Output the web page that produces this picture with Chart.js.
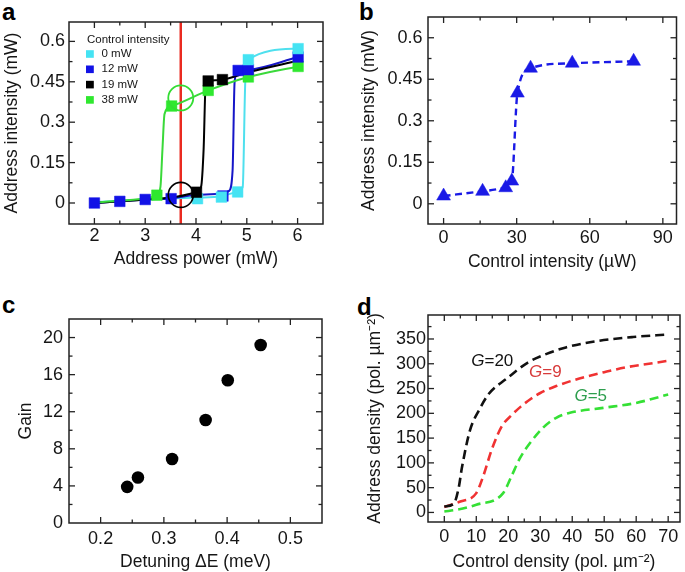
<!DOCTYPE html>
<html><head><meta charset="utf-8">
<script src="https://cdn.jsdelivr.net/npm/chart.js@4.4.1/dist/chart.umd.min.js"></script>
<style>
html,body{margin:0;padding:0;background:#fff;width:685px;height:572px;overflow:hidden;}
canvas{position:absolute;}
.lbl{position:absolute;font:bold 24px "Liberation Sans",Arial,sans-serif;line-height:24px;color:#000;}
</style></head><body>
<div class="lbl" style="left:2px;top:0px">a</div>
<div class="lbl" style="left:359px;top:0px">b</div>
<div class="lbl" style="left:2px;top:293px">c</div>
<div class="lbl" style="left:357px;top:295px">d</div>
<canvas id="ca" width="340" height="290" style="left:0;top:0"></canvas>
<canvas id="cb" width="345" height="290" style="left:340px;top:0"></canvas>
<canvas id="cc" width="340" height="282" style="left:0;top:290px"></canvas>
<canvas id="cd" width="345" height="282" style="left:340px;top:290px"></canvas>
<script>
// ---------------- Panel a data ----------------
const aSeriesLabels = ['0 mW', '12 mW', '19 mW', '38 mW'];
const aLegendTitle = 'Control intensity';
const aCyanX = [4.03, 4.5, 4.82, 5.03, 6.01];
const aCyanY = [0.016, 0.022, 0.041, 0.532, 0.573];
const aBlueX = [2, 2.5, 3, 3.51, 4.53, 4.83, 5.03, 6.01];
const aBlueY = [0, 0.006, 0.013, 0.016, 0.026, 0.492, 0.495, 0.542];
const aBlackX = [4.01, 4.24, 4.52];
const aBlackY = [0.04, 0.453, 0.458];
const aGreenX = [3.23, 3.52, 4.24, 5.03, 6.01];
const aGreenY = [0.029, 0.36, 0.418, 0.468, 0.507];
// fitted curves
const aCyanCurveX = [2, 3, 4, 4.5, 4.82, 4.92, 4.97, 5.03, 6.01];
const aCyanCurveY = [0.003, 0.013, 0.02, 0.025, 0.041, 0.06, 0.45, 0.532, 0.573];
const aBlueCurveX = [2, 2.5, 3, 3.51, 4, 4.5, 4.65, 4.72, 4.76, 4.83, 5.03, 6.01];
const aBlueCurveY = [0, 0.006, 0.013, 0.017, 0.03, 0.034, 0.045, 0.12, 0.45, 0.492, 0.495, 0.542];
const aBlackCurveX = [2, 2.5, 3, 3.5, 4.01, 4.1, 4.15, 4.19, 4.24, 4.52, 5.03, 6.01];
const aBlackCurveY = [0, 0.006, 0.013, 0.02, 0.04, 0.06, 0.2, 0.44, 0.453, 0.458, 0.485, 0.528];
const aGreenCurveX = [2, 2.5, 3, 3.23, 3.3, 3.34, 3.38, 3.52, 4.24, 5.03, 6.01];
const aGreenCurveY = [0.002, 0.008, 0.017, 0.029, 0.06, 0.2, 0.33, 0.36, 0.418, 0.468, 0.507];
const aThresholdX = 3.7;
const aCircleX = [3.7, 3.7];
const aCircleY = [0.39, 0.03];
const aXTicks = [2, 3, 4, 5, 6];
const aYTicks = [0, 0.15, 0.3, 0.45, 0.6];
const aXRange = [1.5, 6.5];
const aYRange = [-0.078, 0.672];

// ---------------- Panel b data ----------------
const bX = [0, 16, 25.5, 28, 30.3, 35.7, 52.8, 78];
const bY = [0.028, 0.045, 0.058, 0.082, 0.40, 0.49, 0.508, 0.515];
const bXTicks = [0, 30, 60, 90];
const bYTicks = [0, 0.15, 0.3, 0.45, 0.6];
const bXRange = [-6.4, 95.6];
const bYRange = [-0.073, 0.675];

// ---------------- Panel c data ----------------
const cX = [0.242, 0.259, 0.313, 0.366, 0.401, 0.453];
const cY = [3.9, 4.9, 6.9, 11.1, 15.4, 19.2];
const cXTicks = [0.2, 0.3, 0.4, 0.5];
const cYTicks = [0, 4, 8, 12, 16, 20];
const cXRange = [0.15, 0.55];
const cYRange = [0, 22];

// ---------------- Panel d data ----------------
const dSeriesLabels = ['G=20', 'G=9', 'G=5'];
const dG20X = [0, 3, 4.5, 5.5, 8, 11, 14, 19.5, 26, 32, 38, 48, 59, 70];
const dG20Y = [12, 18, 50, 90, 165, 208, 240, 270, 302, 320, 333, 346, 354, 359];
const dG9X = [0, 5, 10, 12, 15, 18, 21, 24, 27, 30, 35, 40, 45, 50, 57, 64, 70];
const dG9Y = [11, 22, 39, 70, 130, 174, 196, 214, 229, 241, 255, 266, 275, 283, 293, 300, 306];
const dG5X = [0, 3.9, 10, 18.4, 21, 23.7, 26.8, 30.9, 35, 39.3, 49.7, 60, 70];
const dG5Y = [2, 5.5, 15.6, 39, 73, 110, 140, 171, 191, 201, 211, 221, 238];
const dXTicks = [0, 10, 20, 30, 40, 50, 60, 70];
const dYTicks = [0, 50, 100, 150, 200, 250, 300, 350];
const dXRange = [-5.1, 73.7];
const dYRange = [-19.3, 398.4];

// ---------------- helpers ----------------
const FONT = '"Liberation Sans", Arial, sans-serif';
const TXT = '#161616';
const pts = (xs, ys) => xs.map((x, i) => ({x: x, y: ys[i]}));

const framePlugin = {
  id: 'frame',
  afterDatasetsDraw(chart, args, o) {
    const {ctx, chartArea: a} = chart;
    const xs = chart.scales.x, ys = chart.scales.y;
    ctx.save();
    ctx.strokeStyle = '#222';
    ctx.lineWidth = 1.3;
    const seg = (x1, y1, x2, y2) => { ctx.beginPath(); ctx.moveTo(x1, y1); ctx.lineTo(x2, y2); ctx.stroke(); };
    const tx = (v, len) => { const p = xs.getPixelForValue(v); if (p < a.left + 1.5 || p > a.right - 1.5) return; seg(p, a.bottom, p, a.bottom - len); seg(p, a.top, p, a.top + len); };
    const ty = (v, len) => { const p = ys.getPixelForValue(v); if (p < a.top + 1.5 || p > a.bottom - 1.5) return; seg(a.left, p, a.left + len, p); seg(a.right, p, a.right - len, p); };
    const majX = xs.ticks.map(t => t.value), majY = ys.ticks.map(t => t.value);
    majX.forEach(v => tx(v, 6));
    majY.forEach(v => ty(v, 6));
    const minor = (scale, step, maj, fn) => {
      for (let k = Math.ceil(scale.min / step); k <= Math.floor(scale.max / step); k++) {
        const v = k * step;
        if (maj.some(m => Math.abs(m - v) < step * 1e-3)) continue;
        fn(v, 3.5);
      }
    };
    minor(xs, o.xMinor, majX, tx);
    minor(ys, o.yMinor, majY, ty);
    ctx.lineWidth = 1.5;
    ctx.strokeRect(a.left, a.top, a.right - a.left, a.bottom - a.top);
    ctx.restore();
  }
};

const legendPlugin = {
  id: 'boxLegend',
  afterDatasetsDraw(chart, args, o) {
    if (!o || !o.labels) return;
    const {ctx, chartArea: a} = chart;
    ctx.save();
    ctx.font = '11.5px ' + FONT;
    ctx.textBaseline = 'middle';
    ctx.textAlign = 'left';
    ctx.fillStyle = TXT;
    ctx.fillText(o.title, a.left + 18, a.top + 18);
    o.labels.forEach((lab, i) => {
      const y = a.top + 32 + i * 15.3;
      ctx.fillStyle = o.colors[i];
      ctx.fillRect(a.left + 17, y - 3.8, 7.8, 7.6);
      ctx.fillStyle = TXT;
      ctx.fillText(lab, a.left + 32.5, y);
    });
    ctx.restore();
  }
};

const curveLabelPlugin = {
  id: 'curveLabels',
  afterDatasetsDraw(chart, args, o) {
    if (!o || !o.items) return;
    const {ctx} = chart;
    const xs = chart.scales.x, ys = chart.scales.y;
    ctx.save();
    ctx.textBaseline = 'middle';
    ctx.textAlign = 'left';
    o.items.forEach(it => {
      const px = xs.getPixelForValue(it.x), py = ys.getPixelForValue(it.y);
      const head = it.text.charAt(0), rest = it.text.slice(1);
      ctx.font = 'italic 17px ' + FONT;
      const w1 = ctx.measureText(head).width;
      ctx.font = '17px ' + FONT;
      const w2 = ctx.measureText(rest).width;
      const x0 = px - (w1 + w2) / 2;
      ctx.fillStyle = it.color;
      ctx.font = 'italic 17px ' + FONT;
      ctx.fillText(head, x0, py);
      ctx.font = '17px ' + FONT;
      ctx.fillText(rest, x0 + w1, py);
    });
    ctx.restore();
  }
};

function axis(range, ticksArr, title, cfg) {
  return {
    type: 'linear', min: range[0], max: range[1],
    afterBuildTicks: s => { s.ticks = ticksArr.map(v => ({value: v})); },
    afterFit: cfg.fit,
    ticks: {callback: v => String(v), font: {family: FONT, size: 18}, color: TXT, padding: cfg.tickPad, autoSkip: false, maxRotation: 0},
    grid: {display: false, drawTicks: false},
    border: {display: false},
    title: {display: true, text: title, font: {family: FONT, size: 17.5}, color: TXT, padding: cfg.titlePad}
  };
}

function makeChart(id, W, H, area, datasets, scalesCfg, pluginOpts, extraPlugins) {
  const xs = axis(scalesCfg.xRange, scalesCfg.xTicks, scalesCfg.xTitle,
    {fit: s => { s.height = H - area.B; }, tickPad: scalesCfg.xTickPad, titlePad: {top: 0, bottom: scalesCfg.xTitleBottom}});
  const ys = axis(scalesCfg.yRange, scalesCfg.yTicks, scalesCfg.yTitle,
    {fit: s => { s.width = area.L; }, tickPad: scalesCfg.yTickPad, titlePad: {top: scalesCfg.yTitleTop, bottom: 0}});
  xs.position = 'bottom';
  ys.position = 'left';
  return new Chart(document.getElementById(id), {
    type: 'scatter',
    data: {datasets: datasets},
    options: {
      responsive: false, animation: false, devicePixelRatio: 1,
      layout: {padding: {left: 0, top: area.T, right: W - area.R, bottom: 0}},
      scales: {x: xs, y: ys},
      plugins: Object.assign({legend: {display: false}, tooltip: {enabled: false}}, pluginOpts)
    },
    plugins: [framePlugin].concat(extraPlugins || [])
  });
}

// ---------------- Panel a ----------------
const aCol = {cyan: '#45e3f3', blue: '#1212e6', black: '#000000', green: '#2fe82f'};
const aLine = {cyan: '#4fe0ee', blue: '#1616c8', black: '#000000', green: '#3ad93a'};
const mk = (label, xs, ys, c, order) => ({label, data: pts(xs, ys), pointStyle: 'rect', pointRadius: 7.5,
  backgroundColor: c, borderColor: c, pointBorderWidth: 0.5, order});
const curve = (xs, ys, c, order) => ({data: pts(xs, ys), showLine: true, pointRadius: 0, borderColor: c,
  borderWidth: 2, cubicInterpolationMode: 'monotone', order});
makeChart('ca', 340, 290, {L: 69, T: 22, R: 323, B: 224}, [
  mk(aSeriesLabels[0], aCyanX, aCyanY, aCol.cyan, 1),
  mk(aSeriesLabels[1], aBlueX, aBlueY, aCol.blue, 2),
  mk(aSeriesLabels[2], aBlackX, aBlackY, aCol.black, 0),
  mk(aSeriesLabels[3], aGreenX, aGreenY, aCol.green, 3),
  curve(aCyanCurveX, aCyanCurveY, aLine.cyan, 13),
  curve(aBlueCurveX, aBlueCurveY, aLine.blue, 12),
  curve(aBlackCurveX, aBlackCurveY, aLine.black, 11),
  curve(aGreenCurveX, aGreenCurveY, aLine.green, 10),
  {data: [{x: aThresholdX, y: aYRange[0]}, {x: aThresholdX, y: aYRange[1]}], showLine: true, pointRadius: 0,
    borderColor: '#ea2a20', borderWidth: 2.5, order: 20},
  {data: [{x: aCircleX[0], y: aCircleY[0]}], pointStyle: 'circle', pointRadius: 12.5, borderColor: '#33dd33',
    backgroundColor: 'rgba(0,0,0,0)', pointBorderWidth: 1.8, order: -1},
  {data: [{x: aCircleX[1], y: aCircleY[1]}], pointStyle: 'circle', pointRadius: 12.5, borderColor: '#000',
    backgroundColor: 'rgba(0,0,0,0)', pointBorderWidth: 1.6, order: -1}
], {xRange: aXRange, yRange: aYRange, xTicks: aXTicks, yTicks: aYTicks,
    xTitle: 'Address power (mW)', yTitle: 'Address intensity (mW)',
    xTickPad: 1, yTickPad: 4, xTitleBottom: 20.5, yTitleTop: 1.5},
  {frame: {xMinor: 0.5, yMinor: 0.075},
   boxLegend: {title: aLegendTitle, labels: aSeriesLabels, colors: [aCol.cyan, aCol.blue, aCol.black, aCol.green]}},
  [legendPlugin]);

// ---------------- Panel b ----------------
makeChart('cb', 345, 290, {L: 88, T: 17, R: 343, B: 224}, [
  {label: 'b', data: pts(bX, bY), showLine: true, pointStyle: 'triangle', pointRadius: 8,
    backgroundColor: '#1a1ae6', borderColor: '#1a1ae6', pointBorderWidth: 0.5, borderWidth: 2.4,
    borderDash: [7, 4.5], cubicInterpolationMode: 'monotone'}
], {xRange: bXRange, yRange: bYRange, xTicks: bXTicks, yTicks: bYTicks,
    xTitle: 'Control intensity (\u00b5W)', yTitle: 'Address intensity (mW)',
    xTickPad: 3.5, yTickPad: 5.5, xTitleBottom: 17.5, yTitleTop: 18.5},
  {frame: {xMinor: 15, yMinor: 0.075}});

// ---------------- Panel c ----------------
makeChart('cc', 340, 282, {L: 69, T: 29, R: 322, B: 233}, [
  {label: 'Gain', data: pts(cX, cY), pointStyle: 'circle', pointRadius: 6.3,
    backgroundColor: '#000', borderColor: '#000', pointBorderWidth: 0}
], {xRange: cXRange, yRange: cYRange, xTicks: cXTicks, yTicks: cYTicks,
    xTitle: 'Detuning \u0394E (meV)', yTitle: 'Gain',
    xTickPad: 5.5, yTickPad: 6, xTitleBottom: -0.5, yTitleTop: 16},
  {frame: {xMinor: 0.05, yMinor: 2}});

// ---------------- Panel d ----------------
const dash = (label, xs, ys, c) => ({label, data: pts(xs, ys), showLine: true, pointRadius: 0, borderColor: c,
  borderWidth: 2.6, borderDash: [9, 5], cubicInterpolationMode: 'monotone'});
makeChart('cd', 345, 282, {L: 88, T: 25, R: 340, B: 232}, [
  dash(dSeriesLabels[0], dG20X, dG20Y, '#111111'),
  dash(dSeriesLabels[1], dG9X, dG9Y, '#f03232'),
  dash(dSeriesLabels[2], dG5X, dG5Y, '#35e035')
], {xRange: dXRange, yRange: dYRange, xTicks: dXTicks, yTicks: dYTicks,
    xTitle: 'Control density (pol. \u00b5m\u207b\u00b2)', yTitle: 'Address density (pol. \u00b5m\u207b\u00b2)',
    xTickPad: 4, xTitleBottom: -1, yTickPad: 2, yTitleTop: 24.5},
  {frame: {xMinor: 5, yMinor: 25},
   curveLabels: {items: [
     {x: 15, y: 305, text: dSeriesLabels[0], color: '#111111'},
     {x: 31.6, y: 282, text: dSeriesLabels[1], color: '#d83a3a'},
     {x: 45.8, y: 235, text: dSeriesLabels[2], color: '#2e9e4e'}
   ]}},
  [curveLabelPlugin]);
</script>
</body></html>
